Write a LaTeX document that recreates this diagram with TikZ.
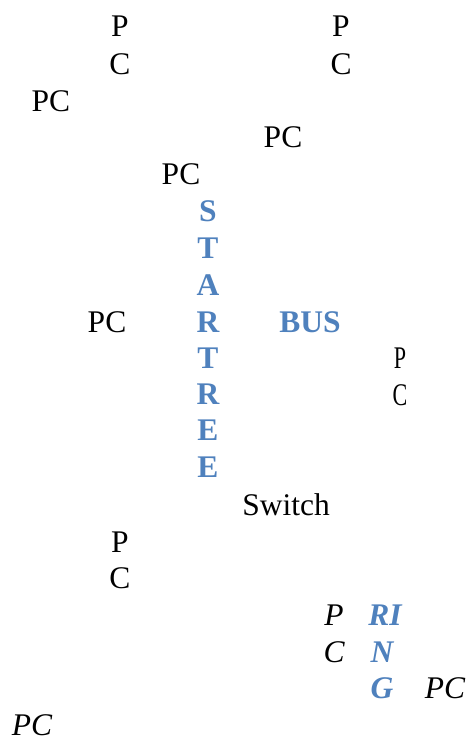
\documentclass[tikz,border=0pt]{standalone}
\usepackage{fontspec}
\setmainfont{Liberation Serif}
\newfontfamily\narrowserif[FakeStretch=0.7]{Liberation Serif}
\definecolor{accentblue}{HTML}{4F81BD}
\newcommand{\lblsize}{\fontsize{31.5}{31.5}\selectfont}
\tikzset{
  lbl/.style={anchor=base, inner sep=0pt, font=\lblsize},
  lblnarrow/.style={lbl, font=\lblsize\narrowserif},
  lblit/.style={lbl, font=\lblsize\itshape},
  tag/.style={lbl, text=accentblue, font=\lblsize\bfseries},
  tagit/.style={lbl, text=accentblue, font=\lblsize\bfseries\itshape}
}
\begin{document}
\begin{tikzpicture}[x=1pt, y=-1pt]
  \useasboundingbox (0,0) rectangle (466,743);
  % top row of PCs
  \node[lbl] (p1a) at (120,37) {P};
  \node[lbl] (p1b) at (120,75) {C};
  \node[lbl] (p2a) at (341,37) {P};
  \node[lbl] (p2b) at (341,75) {C};
  \node[lbl] (pc3) at (51,112) {PC};
  \node[lbl] (pc4) at (283,148) {PC};
  \node[lbl] (pc5) at (181,185) {PC};
  % star/tree label
  \foreach \ch/\yy [count=\i] in {S/222,T/258,A/295,R/332,T/368,R/404,E/440,E/477}
    \node[tag] (st\i) at (208,\yy) {\ch};
  \node[lbl] (pc6) at (107,332) {PC};
  \node[tag] (bus) at (310,332) {BUS};
  \node[lblnarrow] (p7a) at (400,368) {P};
  \node[lblnarrow] (p7b) at (400,405) {C};
  \node[lbl] (sw) at (286,515) {Switch};
  \node[lbl] (p8a) at (120,552) {P};
  \node[lbl] (p8b) at (120,588) {C};
  % ring label
  \node[lblit] (p9a) at (334,625) {P};
  \node[lblit] (p9b) at (334,662) {C};
  \node[tagit] (r1) at (385,625) {RI};
  \node[tagit] (r2) at (382,662) {N};
  \node[tagit] (r3) at (382,698) {G};
  \node[lblit] (pc10) at (445,698) {PC};
  \node[lblit] (pc11) at (32,735) {PC};
\end{tikzpicture}
\end{document}
